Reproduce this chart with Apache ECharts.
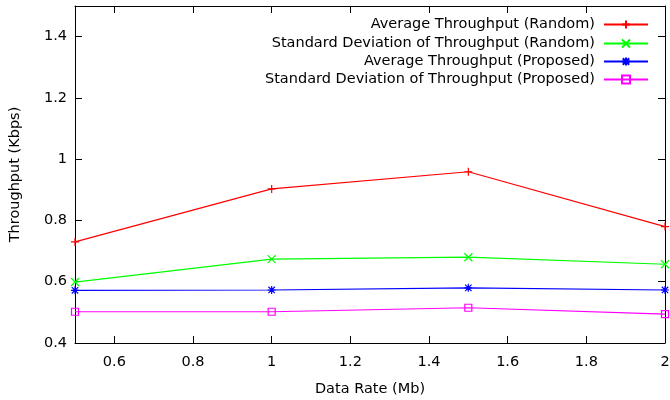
<!DOCTYPE html>
<html><head><meta charset="utf-8">
<script src="https://cdn.jsdelivr.net/npm/echarts@6/dist/echarts.min.js"></script>
<style>html,body{margin:0;padding:0;background:#fff}#c{width:670px;height:400px}</style>
</head><body><div id="c"></div>
<script>
const xValues = [0.5, 1, 1.5, 2];
const avgRandom = [0.730, 0.903, 0.959, 0.780];
const sdRandom = [0.599, 0.674, 0.680, 0.657];
const avgProposed = [0.572, 0.573, 0.580, 0.573];
const sdProposed = [0.502, 0.502, 0.515, 0.494];
const xTicks = [0.6, 0.8, 1, 1.2, 1.4, 1.6, 1.8, 2];
const yTicks = [0.4, 0.6, 0.8, 1, 1.2, 1.4];
const seriesNames = ['Average Throughput (Random)', 'Standard Deviation of Throughput (Random)', 'Average Throughput (Proposed)', 'Standard Deviation of Throughput (Proposed)'];
const seriesValues = [avgRandom, sdRandom, avgProposed, sdProposed];
const colors = ['#ff0000', '#00ff00', '#0000ff', '#ff00ff'];
const symbols = [
  'path://M0,5L10,5M5,0L5,10',
  'path://M0,0L10,10M0,10L10,0',
  'path://M0,5L10,5M5,0L5,10M1,1L9,9M1,9L9,1',
  'path://M0,0L10,0L10,10L0,10Z'
];
const font = 'DejaVu Sans';
const fs = 14.5;
const chart = echarts.init(document.getElementById('c'));
const series = seriesNames.map((n, i) => ({
  name: n, type: 'line', xAxisIndex: 0, yAxisIndex: 0,
  data: xValues.map((x, j) => [x, seriesValues[i][j]]),
  symbol: symbols[i], symbolSize: i === 3 ? 7 : 8, showAllSymbol: true,
  lineStyle: { color: colors[i], width: 1.2 },
  itemStyle: { color: i === 3 ? 'rgba(0,0,0,0)' : colors[i], borderColor: colors[i], borderWidth: 1.2 },
  emphasis: { disabled: true }, animation: false, clip: false
}));
const rowTops = [17, 36, 54, 72];
const legends = seriesNames.map((n, i) => ({
  data: [n], right: 21, top: rowTops[i], orient: 'vertical', align: 'right',
  itemWidth: 44, itemHeight: 10, padding: 0,
  textStyle: { fontFamily: font, fontSize: fs, color: '#000', padding: [0, 4, 0, 0] },
  selectedMode: false
}));
chart.setOption({
  animation: false,
  grid: { left: 75, right: 5, top: 6, bottom: 57, outerBoundsMode: 'none', containLabel: false },
  legend: legends,
  xAxis: [
    { type: 'value', min: 0.5, max: 2, position: 'bottom',
      name: 'Data Rate (Mb)', nameLocation: 'middle', nameGap: 39,
      nameTextStyle: { fontFamily: font, fontSize: fs, color: '#000' },
      axisLine: { show: true, onZero: false, lineStyle: { color: '#000' } },
      axisTick: { show: true, inside: true, length: 7, customValues: xTicks, lineStyle: { color: '#000' } },
      axisLabel: { customValues: xTicks, fontFamily: font, fontSize: fs, color: '#000', margin: 12 },
      splitLine: { show: false } },
    { type: 'value', min: 0.5, max: 2, position: 'top',
      axisLine: { show: true, onZero: false, lineStyle: { color: '#000' } },
      axisTick: { show: true, inside: true, length: 7, customValues: xTicks, lineStyle: { color: '#000' } },
      axisLabel: { show: false }, splitLine: { show: false } }
  ],
  yAxis: [
    { type: 'value', min: 0.4, max: 1.5, position: 'left',
      name: 'Throughput (Kbps)', nameLocation: 'middle', nameGap: 52, nameRotate: 90,
      nameTextStyle: { fontFamily: font, fontSize: fs, color: '#000' },
      axisLine: { show: true, onZero: false, lineStyle: { color: '#000' } },
      axisTick: { show: true, inside: true, length: 7, customValues: yTicks, lineStyle: { color: '#000' } },
      axisLabel: { customValues: yTicks, fontFamily: font, fontSize: fs, color: '#000', margin: 8 },
      splitLine: { show: false } },
    { type: 'value', min: 0.4, max: 1.5, position: 'right',
      axisLine: { show: true, onZero: false, lineStyle: { color: '#000' } },
      axisTick: { show: true, inside: true, length: 7, customValues: yTicks, lineStyle: { color: '#000' } },
      axisLabel: { show: false }, splitLine: { show: false } }
  ],
  series: series
});
</script></body></html>
